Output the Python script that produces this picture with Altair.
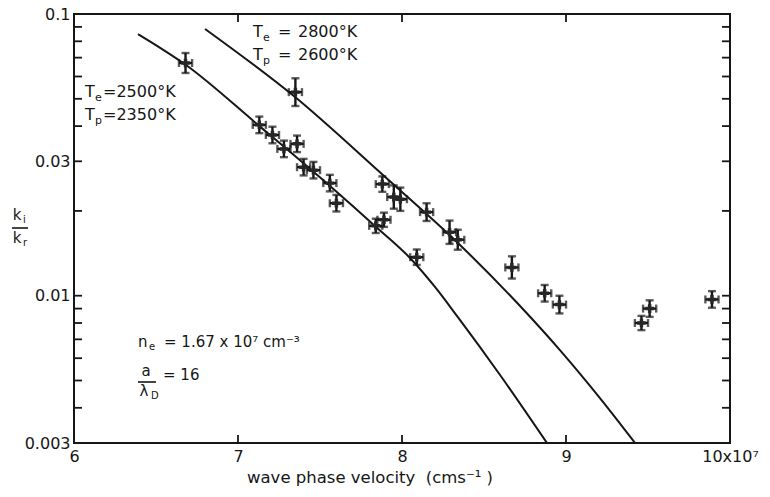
import altair as alt
import pandas as pd

# Measured k_i/k_r against wave phase velocity (velocity in units of 1e7 cm/s)
velocity = [6.68, 7.35, 7.13, 7.21, 7.28, 7.36, 7.40, 7.46, 7.56, 7.60,
            7.84, 7.89, 7.88, 7.95, 7.99, 8.15, 8.29, 8.34, 8.09, 8.67,
            8.87, 8.96, 9.51, 9.46, 9.89]
ratio = [0.0670, 0.0528, 0.0404, 0.0372, 0.0332, 0.0346, 0.0286, 0.0279, 0.0251, 0.0213,
         0.0177, 0.0186, 0.0249, 0.0224, 0.0220, 0.0198, 0.0168, 0.0158, 0.0137, 0.0126,
         0.0102, 0.0093, 0.0090, 0.0080, 0.0097]
# fractional vertical uncertainty of each measurement
ratio_err = [0.085, 0.12, 0.07, 0.07, 0.07, 0.07, 0.07, 0.07, 0.07, 0.07,
             0.06, 0.06, 0.065, 0.10, 0.10, 0.075, 0.10, 0.085, 0.065, 0.095,
             0.07, 0.075, 0.07, 0.06, 0.07]
velocity_err = 0.04

# Theoretical curves
cool_v = [6.39, 6.683, 7.122, 7.561, 7.835, 8.049, 8.201, 8.335, 8.598, 8.884]
cool_r = [0.0849, 0.0659, 0.0404, 0.0245, 0.01768, 0.01361, 0.01074, 0.00848, 0.00523, 0.0030]
hot_v = [6.799, 7.348, 7.884, 8.341, 8.720, 8.963, 9.207, 9.421]
hot_r = [0.0885, 0.0507, 0.0268, 0.01539, 0.00919, 0.00641, 0.00433, 0.0030]

# Axis tick positions
x_ticks = [7, 8, 9]
y_ticks = [0.004, 0.005, 0.006, 0.007, 0.008, 0.009, 0.01, 0.02, 0.03,
           0.04, 0.05, 0.06, 0.07, 0.08, 0.09]
x_labels = [6, 7, 8, 9, 10]
y_labels = [0.003, 0.01, 0.03, 0.1]

W, H = 656, 429
FONT = "DejaVu Sans"
INK = "#161616"

pts = pd.DataFrame({"v": velocity, "r": ratio, "e": ratio_err})
pts["lo"] = pts["r"] / (1 + pts["e"])
pts["hi"] = pts["r"] * (1 + pts["e"])
pts["vl"] = pts["v"] - velocity_err
pts["vh"] = pts["v"] + velocity_err

curves = pd.concat([
    pd.DataFrame({"v": cool_v, "r": cool_r, "c": "cool"}),
    pd.DataFrame({"v": hot_v, "r": hot_r, "c": "hot"}),
])

xs = alt.Scale(domain=[6, 10], nice=False, zero=False)
ys = alt.Scale(type="log", domain=[0.003, 0.1], nice=False)

x_axis = alt.Axis(
    values=x_labels, title=None, ticks=False, domain=False, grid=False,
    labelExpr="datum.value == 10 ? '10x10\u2077' : datum.label",
    labelFont=FONT, labelFontSize=16, labelColor=INK, labelPadding=5,
    labelFlush=False, labelOverlap=False)
y_axis = alt.Axis(
    values=y_labels, format=".3~f", title=None, ticks=False,
    domain=False, grid=False, labelFont=FONT, labelFontSize=16, labelColor=INK,
    labelPadding=4, labelFlush=False, labelOverlap=False)

X = lambda f: alt.X(f, type="quantitative", scale=xs, axis=x_axis)
Y = lambda f: alt.Y(f, type="quantitative", scale=ys, axis=y_axis)

lines = alt.Chart(curves).mark_line(color=INK, strokeWidth=2, interpolate="monotone").encode(
    x=X("v"), y=Y("r"), detail="c:N")

bar = dict(color=INK, strokeWidth=2.4)
cap = dict(color=INK, size=8, thickness=2.4)
vbars = alt.Chart(pts).mark_rule(**bar).encode(x=X("v"), y=Y("lo"), y2="hi:Q")
hbars = alt.Chart(pts).mark_rule(**bar).encode(x=X("vl"), x2="vh:Q", y=Y("r"))
cap_lo = alt.Chart(pts).mark_tick(orient="horizontal", **cap).encode(x=X("v"), y=Y("lo"))
cap_hi = alt.Chart(pts).mark_tick(orient="horizontal", **cap).encode(x=X("v"), y=Y("hi"))
cap_l = alt.Chart(pts).mark_tick(orient="vertical", **cap).encode(x=X("vl"), y=Y("r"))
cap_r = alt.Chart(pts).mark_tick(orient="vertical", **cap).encode(x=X("vh"), y=Y("r"))
dots = alt.Chart(pts).mark_point(shape="cross", filled=True, color="#262626", size=75, opacity=1).encode(
    x=X("v"), y=Y("r"))

# inward ticks on all four sides of the frame
yt = pd.DataFrame({"r": y_ticks})
xt = pd.DataFrame({"v": x_ticks})
tick_style = dict(color=INK, strokeWidth=1.8)
left_ticks = alt.Chart(yt).mark_rule(**tick_style).encode(x=alt.value(0), x2=alt.value(8), y=Y("r"))
right_ticks = alt.Chart(yt).mark_rule(**tick_style).encode(x=alt.value(W - 8), x2=alt.value(W), y=Y("r"))
bottom_ticks = alt.Chart(xt).mark_rule(**tick_style).encode(y=alt.value(H - 8), y2=alt.value(H), x=X("v"))
top_ticks = alt.Chart(xt).mark_rule(**tick_style).encode(y=alt.value(0), y2=alt.value(8), x=X("v"))

one = pd.DataFrame({"k": [0]})


def label(text, x, y, size=16, align="left"):
    return alt.Chart(one).mark_text(
        text=text, align=align, baseline="alphabetic", font=FONT, fontSize=size, color=INK
    ).encode(x=alt.value(x), y=alt.value(y))


def rule(x1, x2, y):
    return alt.Chart(one).mark_rule(color=INK, strokeWidth=1.6).encode(
        x=alt.value(x1), x2=alt.value(x2), y=alt.value(y))


NB = "\u00a0"
texts = [
    # T_e = 2500 K, T_p = 2350 K
    label("T", 11, 83), label("e", 21, 87, 11), label("=2500\u00b0K", 29, 83),
    label("T", 11, 106), label("p", 21, 110, 11), label("=2350\u00b0K", 29, 106),
    # T_e = 2800 K, T_p = 2600 K
    label("T", 179, 23), label("e", 189, 27, 11), label("=", 204, 23), label("2800\u00b0K", 224, 23),
    label("T", 179, 46), label("p", 189, 50, 11), label("=", 204, 46), label("2600\u00b0K", 224, 46),
    # electron density
    label("n", 64, 333, 15), label("e", 75, 336, 10),
    label("=  1.67 x 10\u2077 cm\u207b\u00b3", 90, 333, 15),
    # a / lambda_D = 16
    label("a", 72, 362, 15, "center"), rule(64, 82, 368),
    label("\u03bb", 70, 382, 15, "center"), label("D", 77, 385, 10),
    label("= 16", 89, 366, 15),
    # y-axis title k_i / k_r
    label("k", -57, 206, 15, "center"), label("i", -51, 209, 10),
    rule(-62, -46, 214),
    label("k", -57, 229, 15, "center"), label("r", -51, 232, 10),
    # x-axis title
    label("wave phase velocity" + NB + NB + "(cms\u207b\u00b9" + NB + ")", 296, 469, 16.5, "center"),
]

chart = alt.layer(
    lines, vbars, hbars, cap_lo, cap_hi, cap_l, cap_r, dots,
    left_ticks, right_ticks, bottom_ticks, top_ticks, *texts
).properties(
    width=W, height=H,
    autosize=alt.AutoSizeParams(type="none"),
    padding={"left": 74, "top": 14, "right": 40, "bottom": 54},
    background="white",
).configure_view(stroke=INK, strokeWidth=2)

chart.save("out.html", embed_options={"renderer": "svg", "actions": False})
